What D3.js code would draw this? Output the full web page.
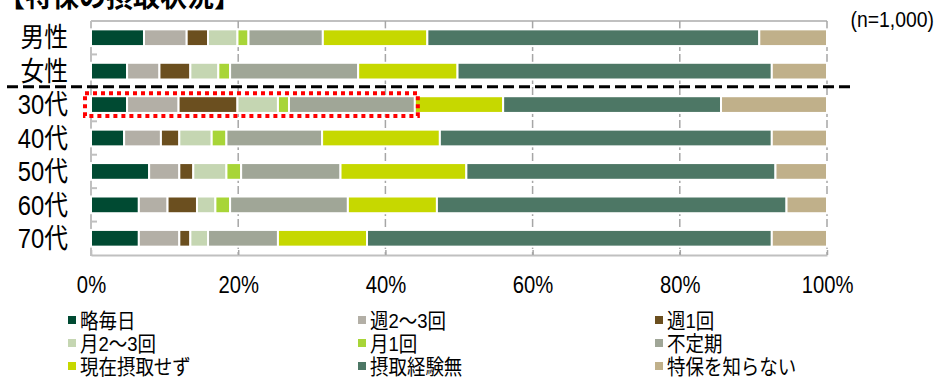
<!DOCTYPE html>
<html>
<head>
<meta charset="utf-8">
<script src="https://cdn.jsdelivr.net/npm/d3@7"></script>
<style>
  body { margin: 0; background: #fff; }
  svg text { font-family: "Liberation Sans", "Noto Sans CJK JP", sans-serif; fill: #000; }
</style>
</head>
<body>
<svg id="chart" width="936" height="380"></svg>
<script>
// Respondent groups (rows, top to bottom)
const categories = ["男性", "女性", "30代", "40代", "50代", "60代", "70代"];

// Intake frequency answers (stack order, left to right) and their colours
const seriesNames = ["略毎日", "週2～3回", "週1回", "月2～3回", "月1回", "不定期", "現在摂取せず", "摂取経験無", "特保を知らない"];
const seriesColors = ["#004a32", "#b3afa6", "#6b4f1f", "#c5d6b2", "#a8d538", "#a0a697", "#c6d800", "#4d7765", "#c0b08a"];

// Share of respondents (%) per group, one array per answer
const daily        = [7.2, 4.9, 4.9, 4.5, 7.9, 6.5, 6.5];
const weekly2to3   = [5.8, 4.4, 7.0, 5.0, 4.1, 3.9, 5.5];
const weekly1      = [2.9, 4.2, 8.0, 2.5, 1.9, 4.0, 1.5];
const monthly2to3  = [4.0, 3.8, 5.5, 4.4, 4.5, 2.5, 2.4];
const monthly1     = [1.5, 1.6, 1.5, 2.0, 2.0, 2.0, 0.0];
const irregular    = [10.1, 17.4, 17.1, 13.0, 13.5, 16.0, 9.5];
const notNow       = [14.2, 13.5, 12.0, 16.0, 17.1, 12.1, 12.1];
const never        = [45.1, 42.7, 29.6, 45.1, 42.0, 47.5, 55.0];
const unaware      = [9.2, 7.5, 14.4, 7.5, 7.0, 5.5, 7.5];

const tickValues = [0, 20, 40, 60, 80, 100];
const tickLabels = ["0%", "20%", "40%", "60%", "80%", "100%"];
const sampleNote = "(n=1,000)";
const title = "【特保の摂取状況】";

const seriesValues = [daily, weekly2to3, weekly1, monthly2to3, monthly1, irregular, notNow, never, unaware];

// Table for d3.stack: one record per group
const table = categories.map((c, i) => {
  const row = { group: c };
  seriesNames.forEach((s, k) => { row[s] = seriesValues[k][i]; });
  return row;
});

const svg = d3.select("#chart");
const plot = { left: 91, right: 827, top: 21, bottom: 255 };
const narrow = 0.88; // horizontal squeeze applied to label text

const x = d3.scaleLinear().domain([0, 100]).range([plot.left, plot.right]);
const y = d3.scaleBand().domain(categories).range([plot.top, plot.bottom]).paddingInner(0.5).paddingOuter(0.25);
const band = d3.scaleBand().domain(categories).range([plot.top, plot.bottom]);
const color = d3.scaleOrdinal().domain(seriesNames).range(seriesColors);

// Places a text at (tx, ty) and squeezes it horizontally around that point
function squeezedText(sel, tx, ty) {
  return sel.attr("transform", `translate(${tx},${ty}) scale(${narrow},1)`);
}

// Title (its upper part runs off the top edge)
svg.append("text")
  .attr("x", -2).attr("y", 7)
  .attr("font-size", 27).attr("font-weight", "bold")
  .text(title);

// Sample size note
squeezedText(svg.append("text"), 934, 27)
  .attr("text-anchor", "end")
  .attr("font-size", 22)
  .text(sampleNote);

// Top border
svg.append("line")
  .attr("x1", plot.left).attr("x2", plot.right)
  .attr("y1", plot.top).attr("y2", plot.top)
  .attr("stroke", "#c0c0c0").attr("stroke-width", 2);

// Vertical gridlines (dashed), including the 100% edge
svg.append("g")
  .selectAll("line")
  .data(tickValues.slice(1))
  .join("line")
  .attr("x1", d => x(d)).attr("x2", d => x(d))
  .attr("y1", plot.top).attr("y2", plot.bottom)
  .attr("stroke", "#a6a6a6").attr("stroke-width", 1.5)
  .attr("stroke-dasharray", "8,3");

// Bottom axis with tick labels
const xAxis = d3.axisBottom(x)
  .tickValues(tickValues)
  .tickFormat((d, i) => tickLabels[i])
  .tickSizeInner(-5).tickSizeOuter(0).tickPadding(22);
const gx = svg.append("g")
  .attr("transform", `translate(0,${plot.bottom})`)
  .call(xAxis);
gx.select(".domain").attr("stroke", "#c0c0c0").attr("stroke-width", 2);
gx.selectAll(".tick line").attr("stroke", "#a6a6a6").attr("stroke-width", 1.5);
gx.selectAll(".tick text")
  .attr("font-size", 23)
  .attr("font-family", "'Liberation Sans', sans-serif")
  .attr("fill", "#000")
  .attr("transform", `scale(${narrow},1)`);

// Left axis: line plus short inward ticks between groups
svg.append("line")
  .attr("x1", plot.left).attr("x2", plot.left)
  .attr("y1", plot.top).attr("y2", plot.bottom + 1)
  .attr("stroke", "#c0c0c0").attr("stroke-width", 2);
svg.append("g")
  .selectAll("line")
  .data(categories.slice(1))
  .join("line")
  .attr("x1", plot.left).attr("x2", plot.left + 6)
  .attr("y1", d => band(d)).attr("y2", d => band(d))
  .attr("stroke", "#c0c0c0").attr("stroke-width", 2);

// Group labels
svg.append("g")
  .selectAll("text")
  .data(categories)
  .join("text")
  .each(function (d) {
    squeezedText(d3.select(this), 68, y(d) + y.bandwidth() / 2);
  })
  .attr("dy", "0.36em")
  .attr("text-anchor", "end")
  .attr("font-size", 27)
  .text(d => d);

// Stacked bars
const stacked = d3.stack().keys(seriesNames)(table);
svg.append("g")
  .selectAll("g")
  .data(stacked)
  .join("g")
  .attr("fill", d => color(d.key))
  .selectAll("rect")
  .data(d => d.filter(p => p[1] - p[0] > 0))
  .join("rect")
  .attr("x", p => x(p[0]))
  .attr("width", p => x(p[1]) - x(p[0]))
  .attr("y", p => y(p.data.group))
  .attr("height", y.bandwidth())
  .attr("stroke", "#ffffff")
  .attr("stroke-width", 2);

// Separator between gender and age groups
svg.append("line")
  .attr("x1", 7).attr("x2", 851)
  .attr("y1", band("30代") - 1).attr("y2", band("30代") - 1)
  .attr("stroke", "#000").attr("stroke-width", 3)
  .attr("stroke-dasharray", "11,5");

// Highlight around the regular-intake part of the 30代 bar
const hiEnd = daily[2] + weekly2to3[2] + weekly1[2] + monthly2to3[2] + monthly1[2] + irregular[2];
svg.append("rect")
  .attr("x", 85)
  .attr("y", y("30代") - 3)
  .attr("width", x(hiEnd) + 3 - 85)
  .attr("height", y.bandwidth() + 6)
  .attr("fill", "none")
  .attr("stroke", "#ff0000").attr("stroke-width", 4)
  .attr("stroke-dasharray", "4,4");

// Legend: three columns, three rows
const legendCols = [68, 358, 655];
const legendRows = [320, 343, 366];
const legend = svg.append("g")
  .selectAll("g")
  .data(seriesNames)
  .join("g")
  .attr("transform", (d, i) => `translate(${legendCols[i % 3]},${legendRows[Math.floor(i / 3)]})`);
legend.append("rect")
  .attr("x", 0).attr("y", -4)
  .attr("width", 8).attr("height", 8)
  .attr("fill", d => color(d));
legend.append("text")
  .attr("transform", `translate(12,0) scale(${narrow},1)`)
  .attr("dy", "0.36em")
  .attr("font-size", 21)
  .text(d => d);
</script>
</body>
</html>
